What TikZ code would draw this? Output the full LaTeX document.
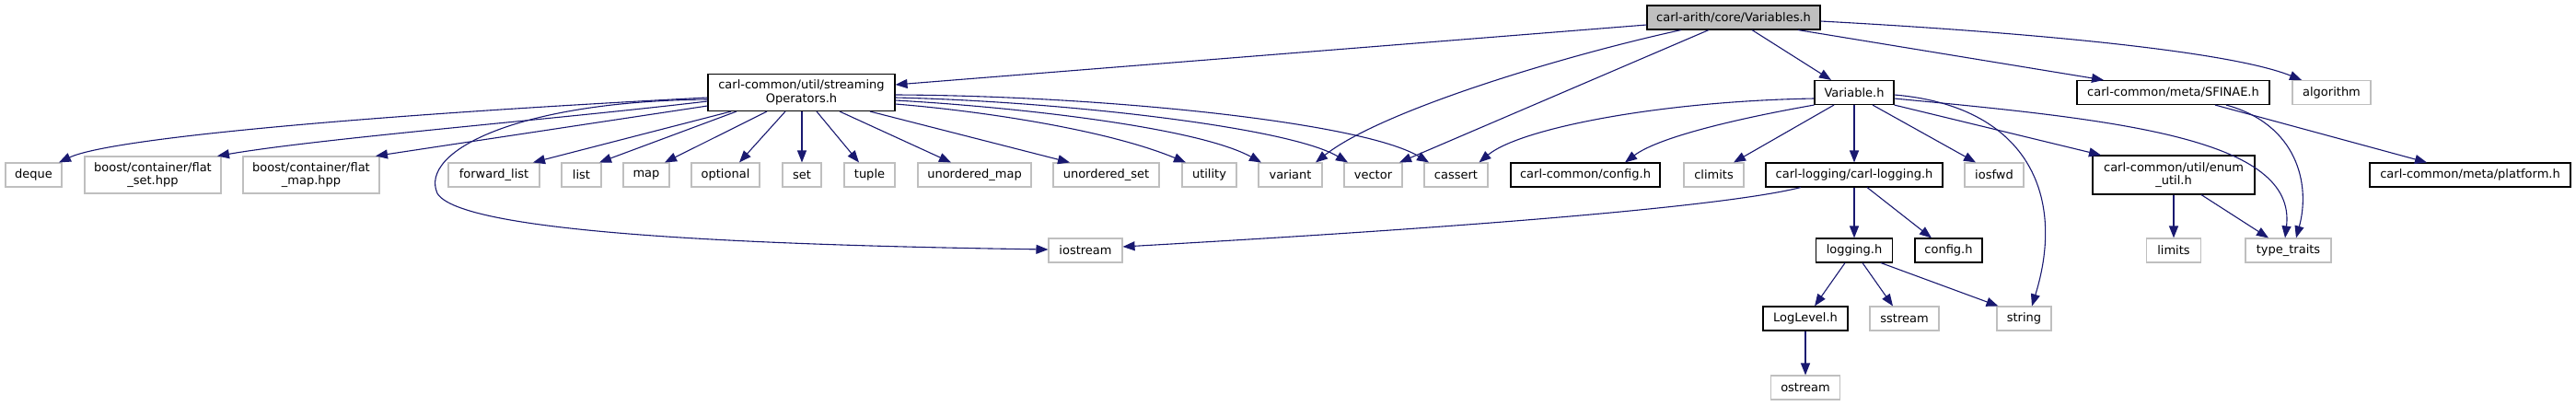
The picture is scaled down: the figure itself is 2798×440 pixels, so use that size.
\documentclass[tikz,border=0pt]{standalone}
\usepackage{fontspec}
\setmainfont{DejaVu Sans}
\usetikzlibrary{arrows.meta}
\definecolor{edgeblue}{HTML}{191970}
\definecolor{sysgray}{HTML}{BFBFBF}
\begin{document}
\begin{tikzpicture}[x=1pt,y=-1pt,
  every node/.style={rectangle,inner sep=0pt,line width=1.1pt,align=center,
    font=\fontsize{13pt}{14.5pt}\selectfont,minimum height=26pt},
  doc/.style={draw=black,fill=white},
  sys/.style={draw=sysgray,fill=white},
  root/.style={draw=black,fill=sysgray},
  two/.style={minimum height=40pt},
  edge/.style={draw=edgeblue,line width=1.1pt,-{Triangle[length=13pt,width=10pt]}}
]
\useasboundingbox (0,0) rectangle (2798,440);
% row 0
\node[root,minimum width=188pt] (root) at (1883,19) {carl-arith/core/Variables.h};
% row 1
\node[doc,two,minimum width=203pt] (so) at (870.5,100.5) {carl-common/util/streaming\\Operators.h};
\node[doc,minimum width=86pt] (var) at (2014,100.5) {Variable.h};
\node[doc,minimum width=209pt] (sfinae) at (2360.5,100.5) {carl-common/meta/SFINAE.h};
\node[sys,minimum width=85pt] (algo) at (2532.5,100.5) {algorithm};
% row 2
\node[sys,minimum width=61pt] (deque) at (36.5,190) {deque};
\node[sys,two,minimum width=148pt] (fset) at (166,190) {boost/container/flat\\\_set.hpp};
\node[sys,two,minimum width=148pt] (fmap) at (338,190) {boost/container/flat\\\_map.hpp};
\node[sys,minimum width=99pt] (flist) at (536.5,190) {forward\_list};
\node[sys,minimum width=43pt] (list) at (631.5,190) {list};
\node[sys,minimum width=50pt] (map) at (702,190) {map};
\node[sys,minimum width=74pt] (optional) at (788,190) {optional};
\node[sys,minimum width=42pt] (set) at (871,190) {set};
\node[sys,minimum width=55pt] (tuple) at (944.5,190) {tuple};
\node[sys,minimum width=123pt] (umap) at (1058.5,190) {unordered\_map};
\node[sys,minimum width=115pt] (uset) at (1201.5,190) {unordered\_set};
\node[sys,minimum width=59pt] (utility) at (1313.5,190) {utility};
\node[sys,minimum width=69pt] (variant) at (1401.5,190) {variant};
\node[sys,minimum width=63pt] (vector) at (1491.5,190) {vector};
\node[sys,minimum width=69pt] (cassert) at (1581.5,190) {cassert};
\node[doc,minimum width=162pt] (cconfig) at (1722,190) {carl-common/config.h};
\node[sys,minimum width=65pt] (climits) at (1861.5,190) {climits};
\node[doc,minimum width=192pt] (clog) at (2014,190) {carl-logging/carl-logging.h};
\node[sys,minimum width=64pt] (iosfwd) at (2166,190) {iosfwd};
\node[doc,minimum width=176pt,minimum height=42pt] (enum) at (2361,190) {carl-common/util/enum\\\_util.h};
\node[doc,minimum width=218pt] (platform) at (2683,190) {carl-common/meta/platform.h};
% row 3
\node[sys,minimum width=80pt] (iostream) at (1179,272) {iostream};
\node[doc,minimum width=83pt] (logging) at (2014,272) {logging.h};
\node[doc,minimum width=73pt] (lconfig) at (2116.5,272) {config.h};
\node[sys,minimum width=59pt] (limits) at (2361,272) {limits};
\node[sys,minimum width=93pt] (ttraits) at (2485.5,272) {type\_traits};
% row 4
\node[doc,minimum width=92pt] (loglevel) at (1961,346) {LogLevel.h};
\node[sys,minimum width=75pt] (sstream) at (2068.5,346) {sstream};
\node[sys,minimum width=59pt] (string) at (2198.5,346) {string};
% row 5
\node[sys,minimum width=75pt] (ostream) at (1961,421) {ostream};

% edges from root
\draw[edge] ([yshift=-8pt]root.west) -- ([yshift=8.5pt]so.east);
\draw[edge] ([xshift=-57pt]root.south) .. controls (1700,60) and (1500,120) .. ([xshift=27.5pt]variant.north);
\draw[edge] ([xshift=-27pt]root.south) -- ([xshift=28.5pt]vector.north);
\draw[edge] ([xshift=20pt]root.south) -- ([xshift=-25pt]var.north);
\draw[edge] ([xshift=70pt]root.south) -- ([xshift=-75.5pt]sfinae.north);
\draw[edge] ([yshift=-4pt]root.east) .. controls (2200,35) and (2420,55) .. ([xshift=-32.5pt]algo.north);

% edges from streamingOperators
\draw[edge] ([yshift=-5.5pt]so.west) .. controls (400,125) and (120,150) .. ([xshift=27.5pt]deque.north);
\draw[edge] ([yshift=-9.5pt]so.west) .. controls (600,130) and (350,150) .. ([xshift=70pt]fset.north);
\draw[edge] ([yshift=-14.5pt]so.west) -- ([xshift=70pt]fmap.north);
\draw[edge] ([xshift=-76.5pt]so.south) -- ([xshift=42.5pt]flist.north);
\draw[edge] ([xshift=-70.5pt]so.south) -- ([xshift=19.5pt]list.north);
\draw[edge] ([xshift=-37.5pt]so.south) -- ([xshift=20pt]map.north);
\draw[edge] ([xshift=-17.5pt]so.south) -- ([xshift=15pt]optional.north);
\draw[edge] (set.north |- so.south) -- (set.north);
\draw[edge] ([xshift=16.5pt]so.south) -- ([xshift=-11.5pt]tuple.north);
\draw[edge] ([xshift=41.5pt]so.south) -- ([xshift=-25.5pt]umap.north);
\draw[edge] ([xshift=74.5pt]so.south) -- ([xshift=-39.5pt]uset.north);
\draw[edge] ([yshift=-12.5pt]so.east) .. controls (1060,120) and (1200,140) .. ([xshift=-25.5pt]utility.north);
\draw[edge] ([yshift=-8.5pt]so.east) .. controls (1100,116) and (1300,138) .. ([xshift=-31.5pt]variant.north);
\draw[edge] ([yshift=-5.5pt]so.east) .. controls (1150,110) and (1400,138) .. ([xshift=-27.5pt]vector.north);
\draw[edge] ([yshift=-2.5pt]so.east) .. controls (1200,104) and (1480,133) .. ([xshift=-29.5pt]cassert.north);
\draw[edge] ([yshift=-7.5pt]so.west) .. controls (560,110) and (455,165) .. (475,210)
   .. controls (500,252) and (800,266) .. ([yshift=1pt]iostream.west);

% edges from Variable.h
\draw[edge] ([yshift=-6.5pt]var.west) .. controls (1800,110) and (1650,140) .. ([xshift=25pt]cassert.north);
\draw[edge] (var.south west) .. controls (1880,130) and (1800,150) .. ([xshift=43pt]cconfig.north);
\draw[edge] ([xshift=-22pt]var.south) -- ([xshift=21.5pt]climits.north);
\draw[edge] (var.south) -- (clog.north);
\draw[edge] ([xshift=20pt]var.south) -- ([xshift=-20pt]iosfwd.north);
\draw[edge] (var.south east) -- ([xshift=-79pt]enum.north);
\draw[edge] ([yshift=-2.5pt]var.east) .. controls (2200,115) and (2245,210) .. ([xshift=8.5pt]string.north);
\draw[edge] ([yshift=-6.5pt]var.east) .. controls (2300,130) and (2495,150) .. ([xshift=-3.5pt]ttraits.north);

% edges from SFINAE
\draw[edge] ([xshift=45.5pt]sfinae.south) -- ([xshift=-47pt]platform.north);
\draw[edge] ([xshift=57.5pt]sfinae.south) .. controls (2495,135) and (2510,200) .. ([xshift=8.5pt]ttraits.north);

% edges from carl-logging
\draw[edge] ([xshift=-58pt]clog.south) .. controls (1850,230) and (1450,255) .. ([yshift=4pt]iostream.east);
\draw[edge] (clog.south) -- (logging.north);
\draw[edge] ([xshift=14pt]clog.south) -- ([xshift=-18.5pt]lconfig.north);

% edges from logging.h
\draw[edge] ([xshift=-10pt]logging.south) -- ([xshift=10pt]loglevel.north);
\draw[edge] ([xshift=9pt]logging.south) -- ([xshift=-12.5pt]sstream.north);
\draw[edge] ([xshift=29pt]logging.south) -- ([xshift=-28pt]string.north);

% LogLevel
\draw[edge] (loglevel.south) -- (ostream.north);

% enum_util
\draw[edge] (enum.south) -- (limits.north);
\draw[edge] ([xshift=30pt]enum.south) -- ([xshift=-21.5pt]ttraits.north);
\end{tikzpicture}
\end{document}
